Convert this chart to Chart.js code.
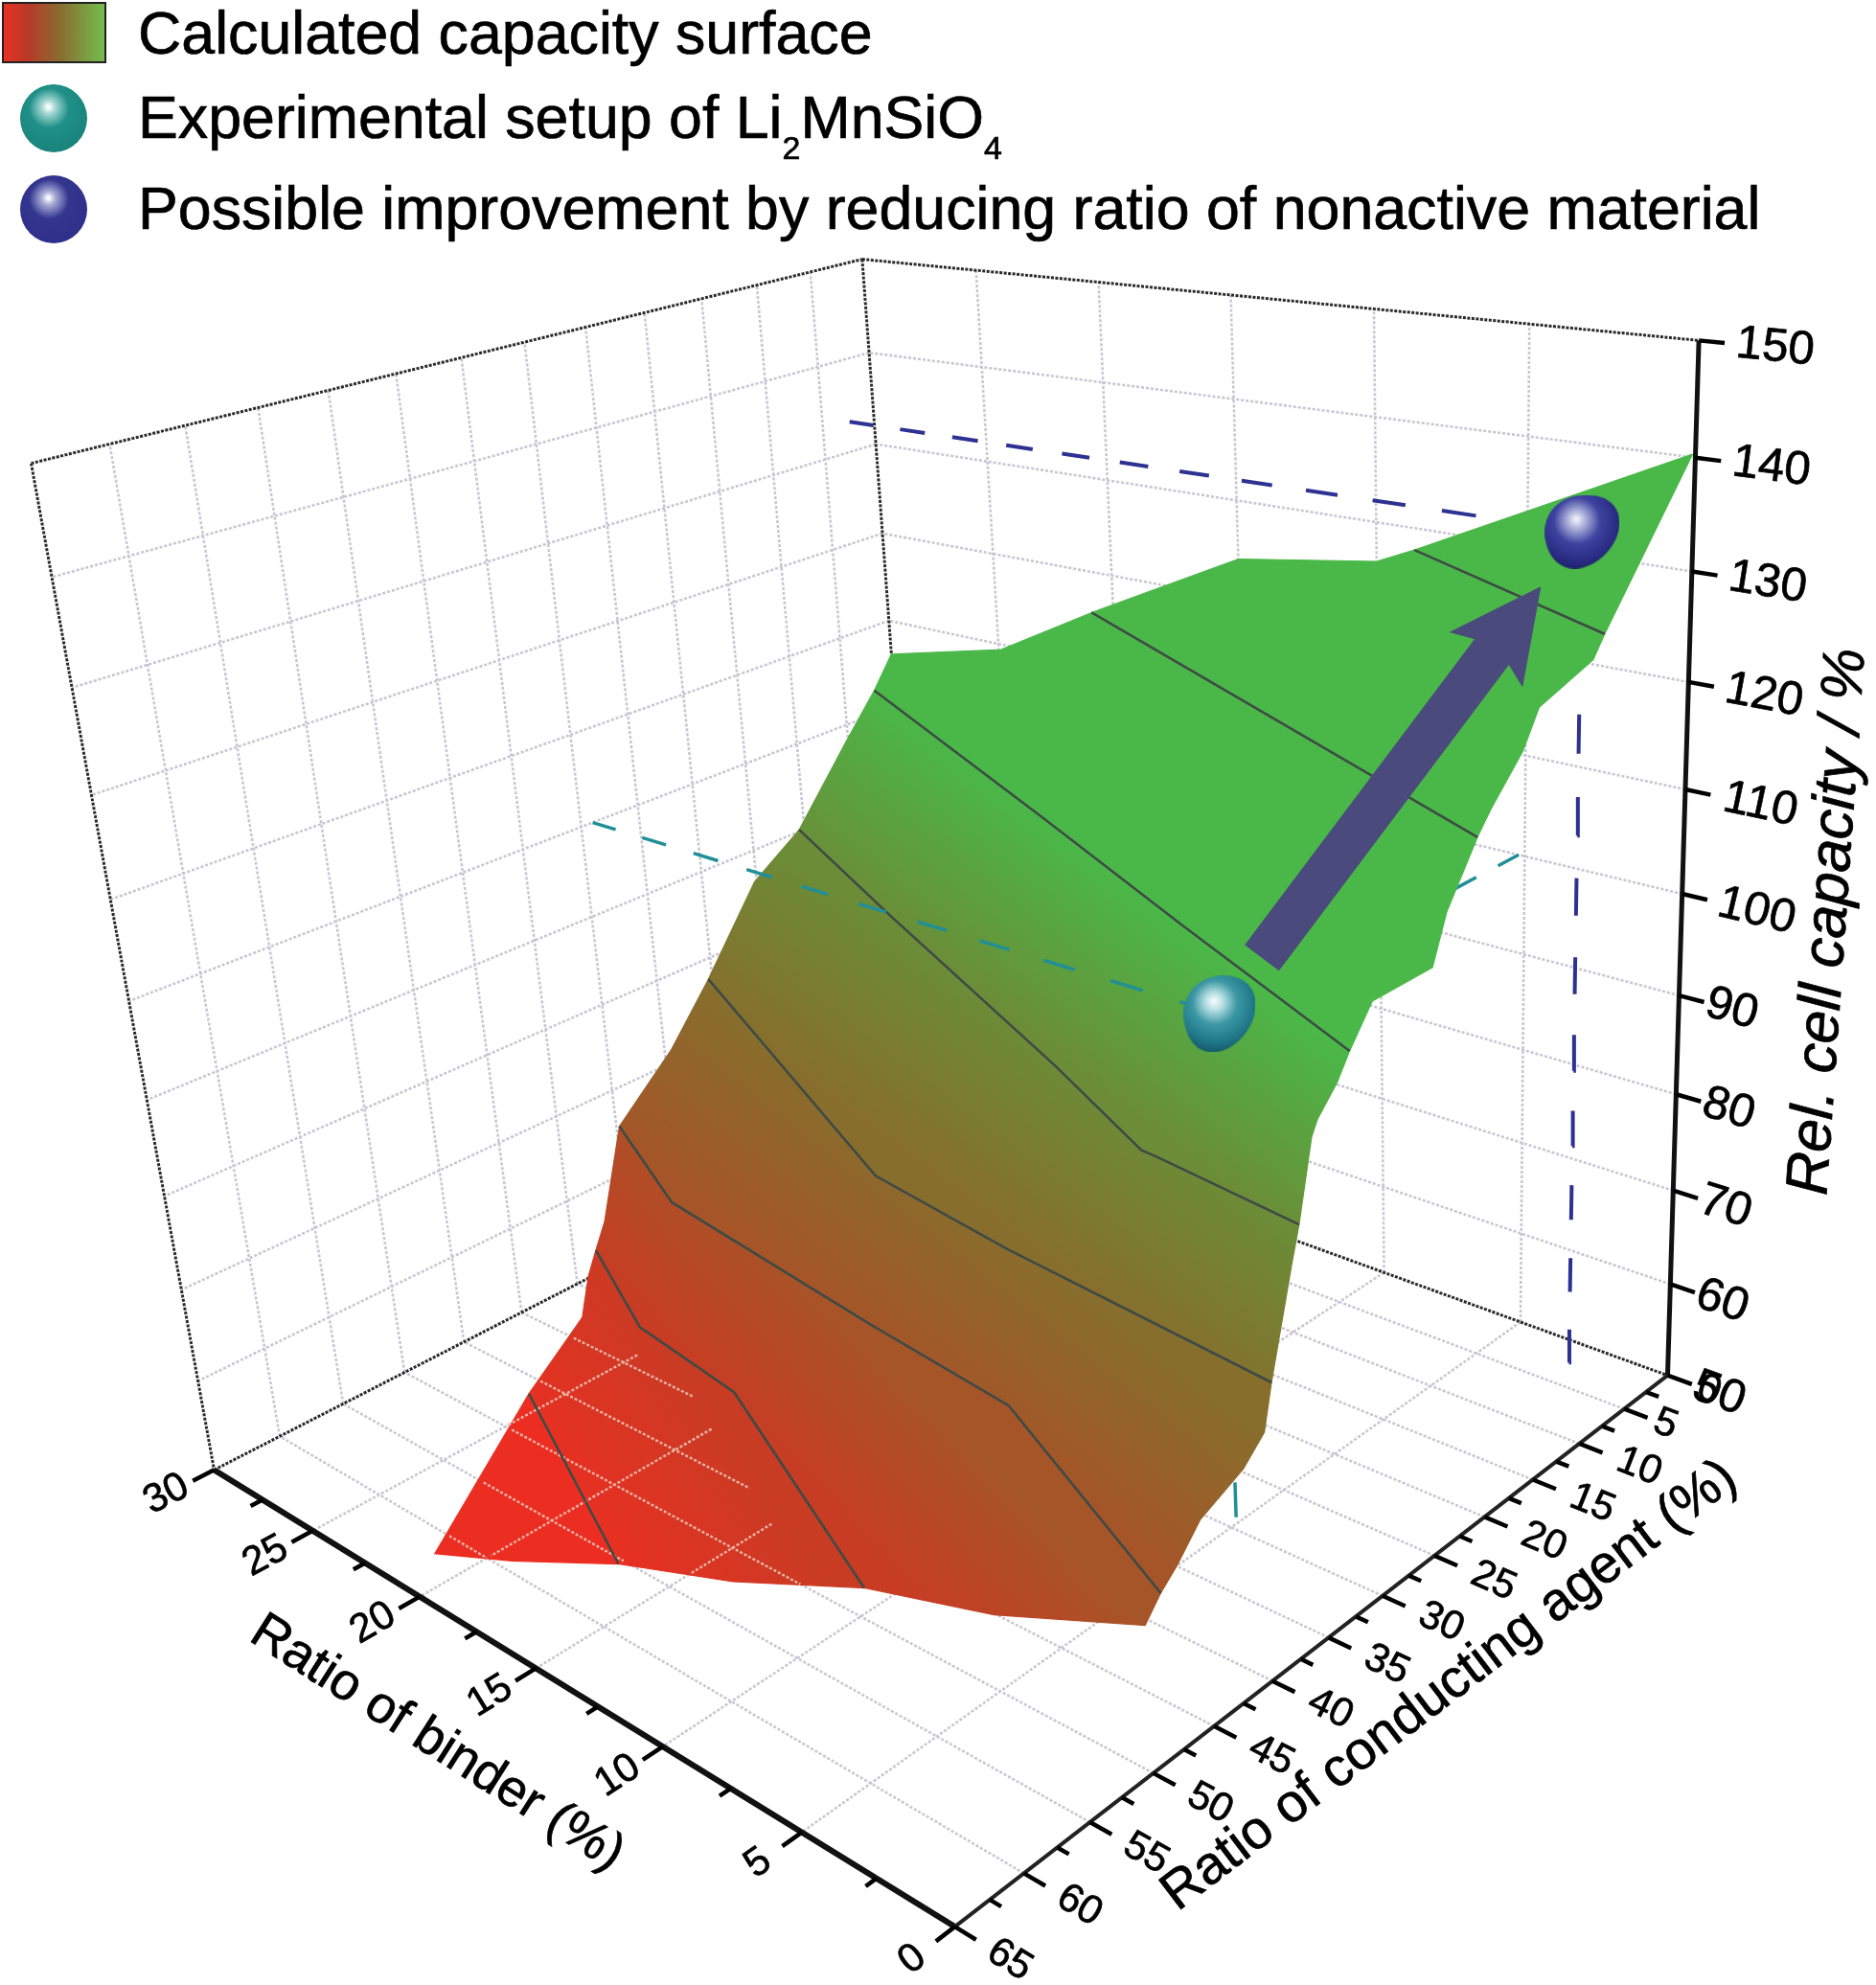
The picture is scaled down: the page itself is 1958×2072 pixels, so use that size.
<!DOCTYPE html>
<html>
<head>
<meta charset="utf-8">
<style>
  html, body { margin: 0; padding: 0; background: #fff; }
  canvas { display: block; }
</style>
<script src="https://cdn.jsdelivr.net/npm/chart.js@4"></script>
</head>
<body>
<canvas id="surfaceChart" width="1958" height="2072"></canvas>
<script>
// axis ticks
const binderTicks = [0, 5, 10, 15, 20, 25, 30];
const conductingTicks = [0, 5, 10, 15, 20, 25, 30, 35, 40, 45, 50, 55, 60, 65];
const capacityTicks = [50, 60, 70, 80, 90, 100, 110, 120, 130, 140, 150];

// outline of the surface, walked from the peak round to the peak again
const outlineBinder = [0, 8.7, 10, 15, 20.9, 24.9, 30, 30, 30, 30, 30, 28.7, 28.2, 27.8, 27, 26.7, 26.5, 26, 25.9, 22.5, 19.9, 16.9, 12.1, 7.6, 2.8, 0, 0, 0, 0, 0, 0, 0, 0, 0, 0, 0, 0, 0, 0, 0, 0, 0, 0, 0, 0, 0, 0];
const outlineConducting = [0.3, 0, 0, 0, 0, 0, 0, 2, 5.2, 10.5, 15.2, 22.7, 27.5, 33.4, 36.9, 38.4, 39.6, 41.3, 46.5, 60.1, 58.4, 55.4, 55.3, 54.2, 54.8, 50.1, 48.8, 47.4, 45.5, 41.9, 40.1, 39.4, 37.5, 36.8, 35.6, 35.1, 33.4, 32.3, 30.3, 25, 23.7, 20.9, 19.7, 16.7, 15.2, 10, 8.9];
const outlineCapacity = [140.4, 127.9, 126.2, 124.1, 115.6, 109.4, 106.1, 102.7, 98.1, 90.2, 86.4, 80, 75, 70, 62, 60, 58, 55, 50, 47, 48.5, 50, 55, 60, 65, 64.2, 66.1, 67.6, 70.2, 72.1, 74.1, 78.2, 87.5, 90.7, 97.7, 98.9, 101.1, 103.2, 106.4, 106.4, 110.6, 115.7, 117.5, 121.2, 124.3, 126.2, 128];

// contour lines: level, where they meet the outline, and the nodes between
const contourLevels = [128, 115.7, 103.2, 90, 80, 70, 60, 50];
const contourStart = [1, 4, 7, 9, 11, 13, 15, 18];
const contourEnd = [46, 41, 37, 33, 31, 26, 23, 21];
const contourBinder = [[], [], [16.7, 8.2], [22.3, 10.9, 5.8, 5.3], [14.6, 8.9], [22.6, 12.9, 7.1], [22, 17.1], []];
const contourConducting = [[], [], [15.6, 24.2], [18.1, 29.2, 34.5, 34.6], [36.8, 38.7], [38.6, 41.7, 43.3], [43.3, 44.9], []];

// the two marked setups
const experimental = { binder: 5.2, conducting: 29, capacity: 100 };
const improved = { binder: 2.6, conducting: 2.4, capacity: 133.25 };

// colour ramp of the surface
const rampCapacity = [47, 50, 60, 70, 80, 90, 103.2];
const rampRed = [236, 230, 200, 165, 135, 108, 74];
const rampGreen = [46, 48, 60, 85, 110, 140, 184];
const rampBlue = [34, 34, 36, 40, 45, 55, 72];

// floor grid showing through the low part of the surface
const showConducting = [40, 45, 50, 55, 60];
const showConductingFrom = [27.4, 26.2, 24.7, 23.1, 21.7];
const showConductingTo = [21.8, 16.8, 12.3, 16.9, 20];
const showBinder = [25, 20, 15];
const showBinderFrom = [38.8, 41.9, 46.8];
const showBinderTo = [49.8, 59.7, 53.3];

// camera fitted to the axes of the picture
const CAM = [-0.5485, -0.96572, -0.19758, 1.74049, -0.01021, 0.12777, -1.12644, 1.43568, 0.23491, -0.22259, -0.12984];

function project(b, c, z) {
  const X = b / 30, Y = c / 65, Z = (z - 50) / 100;
  const w = CAM[8] * X + CAM[9] * Y + CAM[10] * Z + 1;
  return {
    x: 1000 * (CAM[0] * X + CAM[1] * Y + CAM[2] * Z + CAM[3]) / w,
    y: 1000 * (CAM[4] * X + CAM[5] * Y + CAM[6] * Z + CAM[7]) / w,
  };
}

const GAP = { x: null, y: null };

function segments(list) {
  const pts = [];
  list.forEach((s) => {
    pts.push(project(s[0], s[1], s[2]), project(s[3], s[4], s[5]), GAP);
  });
  return pts;
}

// dashes shrink with distance, so they are cut in axis units and then projected
function dashes(a, b, period, on) {
  const total = Math.abs(b[0] - a[0]) + Math.abs(b[1] - a[1]) + Math.abs(b[2] - a[2]);
  const at = (s) => {
    const t = Math.min(s / total, 1);
    return project(a[0] + (b[0] - a[0]) * t, a[1] + (b[1] - a[1]) * t, a[2] + (b[2] - a[2]) * t);
  };
  const pts = [];
  for (let s = 0; s < total; s += period) pts.push(at(s), at(s + on), GAP);
  return pts;
}

function direction(from, to) {
  const dx = to.x - from.x, dy = to.y - from.y, d = Math.hypot(dx, dy);
  return { x: dx / d, y: dy / d };
}

function tickLine(p, dir, len) {
  return [p, { x: p.x + dir.x * len, y: p.y + dir.y * len }, GAP];
}

function rampColor(z) {
  const n = rampCapacity.length;
  if (z <= rampCapacity[0]) return `rgb(${rampRed[0]},${rampGreen[0]},${rampBlue[0]})`;
  if (z >= rampCapacity[n - 1]) return `rgb(${rampRed[n - 1]},${rampGreen[n - 1]},${rampBlue[n - 1]})`;
  let i = 0;
  while (z > rampCapacity[i + 1]) i++;
  const t = (z - rampCapacity[i]) / (rampCapacity[i + 1] - rampCapacity[i]);
  const mix = (a) => Math.round(a[i] + (a[i + 1] - a[i]) * t);
  return `rgb(${mix(rampRed)},${mix(rampGreen)},${mix(rampBlue)})`;
}

// grid on walls and floor
const gridLines = [];
capacityTicks.slice(1, -1).forEach((z) => {
  gridLines.push([30, 0, z, 30, 65, z], [0, 0, z, 30, 0, z]);
});
conductingTicks.slice(1, -1).forEach((c) => {
  gridLines.push([30, c, 50, 30, c, 150], [0, c, 50, 30, c, 50]);
});
binderTicks.slice(1, -1).forEach((b) => {
  gridLines.push([b, 0, 50, b, 0, 150], [b, 0, 50, b, 65, 50]);
});

const frameLines = [
  [30, 65, 150, 30, 0, 150], [30, 0, 150, 0, 0, 150], [30, 0, 150, 30, 0, 50],
  [30, 65, 150, 30, 65, 50], [30, 65, 50, 30, 0, 50], [30, 0, 50, 0, 0, 50],
];

// ticks
const tickPts = [];
binderTicks.concat([2.5, 7.5, 12.5, 17.5, 22.5, 27.5]).forEach((b) => {
  const p = project(b, 65, 50);
  tickPts.push(...tickLine(p, direction(p, project(b, 66, 50)), b % 5 === 0 ? 25 : 14));
});
conductingTicks.concat([2.5, 7.5, 12.5, 17.5, 22.5, 27.5, 32.5, 37.5, 42.5, 47.5, 52.5, 57.5, 62.5]).forEach((c) => {
  const p = project(0, c, 50);
  tickPts.push(...tickLine(p, direction(p, project(-1, c, 50)), c % 5 === 0 ? 26 : 14));
});
capacityTicks.forEach((z) => {
  const p = project(0, 0, z);
  tickPts.push(...tickLine(p, direction(p, project(-1, 0, z)), 27));
});

// surface strips between neighbouring contours
const outlinePt = (i) => project(outlineBinder[i], outlineConducting[i], outlineCapacity[i]);
function outlinePath(from, to) {
  const pts = [];
  for (let i = from; i <= to; i++) pts.push(outlinePt(i));
  return pts;
}
function contourPath(k) {
  const mid = contourBinder[k].map((b, i) => project(b, contourConducting[k][i], contourLevels[k]));
  return [outlinePt(contourStart[k]), ...mid, outlinePt(contourEnd[k])];
}

const canvas = document.getElementById("surfaceChart");
const ctx2d = canvas.getContext("2d");

function stripFill(k) {
  const up = contourPath(k), low = contourPath(k + 1);
  const cu = direction(up[0], up[up.length - 1]), cl = direction(low[0], low[low.length - 1]);
  const n0 = { x: -(cu.y + cl.y), y: cu.x + cl.x };
  const len = Math.hypot(n0.x, n0.y);
  const n = { x: n0.x / len, y: n0.y / len };
  const avg = (arr) => arr.reduce((s, p) => s + p.x * n.x + p.y * n.y, 0) / arr.length;
  const tu = avg(up), tl = avg(low);
  const g = ctx2d.createLinearGradient(n.x * tu, n.y * tu, n.x * tl, n.y * tl);
  g.addColorStop(0, rampColor(contourLevels[k]));
  g.addColorStop(1, rampColor(contourLevels[k + 1]));
  return g;
}

const stripSets = [];
function addStrip(points, fill) {
  stripSets.push({ data: points, fill: "shape", backgroundColor: fill, borderColor: fill, borderWidth: 1.2 });
}
addStrip([...outlinePath(0, contourStart[0]), ...contourPath(0), ...outlinePath(contourEnd[0], outlineBinder.length - 1), outlinePt(0)], rampColor(140));
contourLevels.slice(0, -1).forEach((lvl, k) => {
  addStrip([
    ...outlinePath(contourStart[k], contourStart[k + 1]),
    ...contourPath(k + 1),
    ...outlinePath(contourEnd[k + 1], contourEnd[k]),
    ...contourPath(k).reverse(),
  ], stripFill(k));
});
const lastC = contourLevels.length - 1;
addStrip([...outlinePath(contourStart[lastC], contourEnd[lastC]), outlinePt(contourStart[lastC])], rampColor(47));

const contourPts = [];
contourLevels.forEach((lvl, k) => contourPts.push(...contourPath(k), GAP));

const showThrough = [];
showConducting.forEach((c, i) => showThrough.push([showConductingFrom[i], c, 50, showConductingTo[i], c, 50]));
showBinder.forEach((b, i) => showThrough.push([b, showBinderFrom[i], 50, b, showBinderTo[i], 50]));

// arrow from the experimental setup to the improved one
const tealPt = project(experimental.binder, experimental.conducting, experimental.capacity);
const navyPt = project(improved.binder, improved.conducting, improved.capacity);
function arrowShape() {
  const d = direction(tealPt, navyPt), n = { x: -d.y, y: d.x };
  const along = (t) => ({ x: tealPt.x + (navyPt.x - tealPt.x) * t, y: tealPt.y + (navyPt.y - tealPt.y) * t });
  const tail = along(0.117), tip = along(0.885);
  const at = (base, back, side) => ({ x: base.x - d.x * back + n.x * side, y: base.y - d.y * back + n.y * side });
  return [at(tail, 0, 22), at(tip, 84, 22), at(tip, 94, 47), tip, at(tip, 94, -47), at(tip, 84, -22), at(tail, 0, -22), at(tail, 0, 22)];
}

// balls
function ballImage(w, h, stops, egg) {
  const c = document.createElement("canvas");
  c.width = w; c.height = h;
  const g = c.getContext("2d");
  g.beginPath();
  if (egg) {
    g.moveTo(w * 0.55, 0);
    g.bezierCurveTo(w * 0.85, 0, w, h * 0.16, w, h * 0.38);
    g.bezierCurveTo(w, h * 0.68, w * 0.7, h, w * 0.4, h);
    g.bezierCurveTo(w * 0.14, h, 0, h * 0.76, 0, h * 0.5);
    g.bezierCurveTo(0, h * 0.2, w * 0.24, 0, w * 0.55, 0);
  } else {
    g.ellipse(w / 2, h / 2, w / 2, h / 2, 0, 0, Math.PI * 2);
  }
  g.closePath();
  const r = g.createRadialGradient(w * 0.42, h * 0.33, 1, w * 0.45, h * 0.38, w * 0.72);
  stops.forEach((s) => r.addColorStop(s[0], s[1]));
  g.fillStyle = r;
  g.fill();
  return c;
}
const tealStops = [[0, "#f2fbfc"], [0.16, "#b4dde2"], [0.42, "#3c98a4"], [0.75, "#1f7686"], [1, "#124f5f"]];
const navyStops = [[0, "#eef1f8"], [0.16, "#a8aed8"], [0.42, "#3f43a0"], [0.75, "#282a80"], [1, "#16174f"]];
const legendTealStops = [[0, "#ffffff"], [0.12, "#a6d8d4"], [0.4, "#1f9088"], [1, "#178078"]];
const legendNavyStops = [[0, "#ffffff"], [0.12, "#a9add6"], [0.4, "#33358f"], [1, "#2c2e88"]];
const tealBall = ballImage(75, 80, tealStops, true);
const navyBall = ballImage(78, 77, navyStops, true);
const legendTeal = ballImage(70, 71, legendTealStops, false);
const legendNavy = ballImage(70, 71, legendNavyStops, false);

function pieces(lines, opts) {
  return Object.assign({ data: lines }, opts);
}

const TEAL = "#1f8f98", NAVY = "#2d3190";
const e = experimental, m = improved;
const layers = [
  pieces(segments(gridLines), { borderColor: "#c9c6d2", borderWidth: 2.6, borderDash: [3, 2] }),
  pieces(segments(frameLines), { borderColor: "#2a2a2a", borderWidth: 3, borderDash: [3, 1.5] }),
  pieces(segments([[0, 0, 50, 0, 0, 150]]), { borderColor: "#111", borderWidth: 5 }),
  pieces(segments([[0, 65, 50, 30, 65, 50]]), { borderColor: "#111", borderWidth: 6 }),
  pieces(segments([[0, 65, 50, 0, 0, 50]]), { borderColor: "#222", borderWidth: 4 }),
  pieces(tickPts, { borderColor: "#000", borderWidth: 4.5 }),
  pieces(dashes([e.binder, 0, e.capacity], [e.binder, e.conducting, e.capacity], 4.5, 2.2), { borderColor: TEAL, borderWidth: 3.5 }),
  pieces(dashes([e.binder, e.conducting, 50], [e.binder, e.conducting, e.capacity], 7.85, 3.7), { borderColor: TEAL, borderWidth: 3.5 }),
  pieces(dashes([30, m.conducting, m.capacity], [m.binder, m.conducting, m.capacity], 2.3, 1.1), { borderColor: NAVY, borderWidth: 4 }),
  pieces(dashes([m.binder, m.conducting, 50], [m.binder, m.conducting, m.capacity], 7.85, 3.7), { borderColor: NAVY, borderWidth: 4 }),
  ...stripSets,
  pieces(segments(showThrough), { borderColor: "rgba(240,205,190,0.85)", borderWidth: 2.4, borderDash: [3, 2] }),
  pieces(contourPts, { borderColor: "#3e4a46", borderWidth: 2.6 }),
  pieces(dashes([30, e.conducting, e.capacity], [e.binder, e.conducting, e.capacity], 2.35, 1.1), { borderColor: TEAL, borderWidth: 3.5 }),
  pieces(arrowShape(), { fill: "shape", backgroundColor: "#4a4a7c", borderColor: "#4a4a7c", borderWidth: 1 }),
  pieces([tealPt], { pointStyle: tealBall, pointRadius: 1, showLine: false }),
  pieces([navyPt], { pointStyle: navyBall, pointRadius: 1, showLine: false }),
];
layers.forEach((ds, i) => { ds.order = layers.length - i; });

function text(c, str, x, y, size, angle, align, style) {
  c.save();
  c.translate(x, y);
  c.rotate(angle);
  c.font = `${style || ""} ${size}px "Liberation Sans"`;
  c.fillStyle = "#000";
  c.strokeStyle = "#000";
  c.lineWidth = 0.7;
  c.textAlign = align || "center";
  c.textBaseline = align === "left" ? "alphabetic" : "middle";
  c.fillText(str, 0, 0);
  c.strokeText(str, 0, 0);
  c.restore();
}

const LEG = 62.7, SUB = 34;
const labelsPlugin = {
  id: "labels3d",
  afterDraw(chart) {
    const c = chart.ctx;
    binderTicks.forEach((b) => {
      const p = project(b, 65, 50), d = direction(p, project(b, 66, 50));
      text(c, String(b), p.x + d.x * 56, p.y + d.y * 56, 42, Math.atan2(-d.y, -d.x));
    });
    conductingTicks.forEach((v) => {
      const p = project(0, v, 50), d = direction(p, project(-1, v, 50));
      const r = v < 10 ? 46 : 67;
      text(c, String(v), p.x + d.x * r, p.y + d.y * r, 42, Math.atan2(d.y, d.x));
    });
    capacityTicks.forEach((z) => {
      const p = project(0, 0, z), d = direction(p, project(-1, 0, z));
      const r = z < 100 ? 57 : 80;
      text(c, String(z), p.x + d.x * r, p.y + d.y * r, 49, Math.atan2(d.y, d.x));
    });
    text(c, "Ratio of binder (%)", 456, 1820, 54, 32.5 * Math.PI / 180);
    text(c, "Ratio of conducting agent (%)", 1513, 1760, 56, -37.3 * Math.PI / 180);
    text(c, "Rel. cell capacity / %", 1909, 962, 62, -86 * Math.PI / 180, "center", "italic");

    // legend
    const g = c.createLinearGradient(3, 0, 110, 0);
    g.addColorStop(0, "#ea2f22");
    g.addColorStop(0.25, "#b83a28");
    g.addColorStop(0.55, "#8a6a30");
    g.addColorStop(1, "#72c04e");
    c.fillStyle = g;
    c.fillRect(3, 3, 107, 62);
    c.strokeStyle = "#222";
    c.lineWidth = 2;
    c.strokeRect(3, 3, 107, 62);
    c.drawImage(legendTeal, 21, 88);
    c.drawImage(legendNavy, 21, 183);
    text(c, "Calculated capacity surface", 144, 56, LEG, 0, "left");
    c.font = `${LEG}px "Liberation Sans"`;
    const head = "Experimental setup of Li", mid = "MnSiO";
    const w1 = c.measureText(head).width, w2 = c.measureText(mid).width;
    c.font = `${SUB}px "Liberation Sans"`;
    const ws = c.measureText("2").width;
    text(c, head, 144, 144, LEG, 0, "left");
    text(c, "2", 144 + w1, 166, SUB, 0, "left");
    text(c, mid, 144 + w1 + ws, 144, LEG, 0, "left");
    text(c, "4", 144 + w1 + ws + w2, 166, SUB, 0, "left");
    text(c, "Possible improvement by reducing ratio of nonactive material", 144, 238.5, LEG, 0, "left");
  },
};

new Chart(canvas, {
  type: "line",
  data: { datasets: layers },
  options: {
    responsive: false,
    animation: false,
    events: [],
    spanGaps: false,
    layout: { padding: 0, autoPadding: false },
    elements: { point: { radius: 0 }, line: { tension: 0, fill: false } },
    plugins: { legend: { display: false }, tooltip: { enabled: false }, title: { display: false } },
    scales: {
      x: { type: "linear", min: 0, max: 1958, display: false },
      y: { type: "linear", min: 0, max: 2072, reverse: true, display: false },
    },
  },
  plugins: [labelsPlugin],
});
</script>
</body>
</html>
